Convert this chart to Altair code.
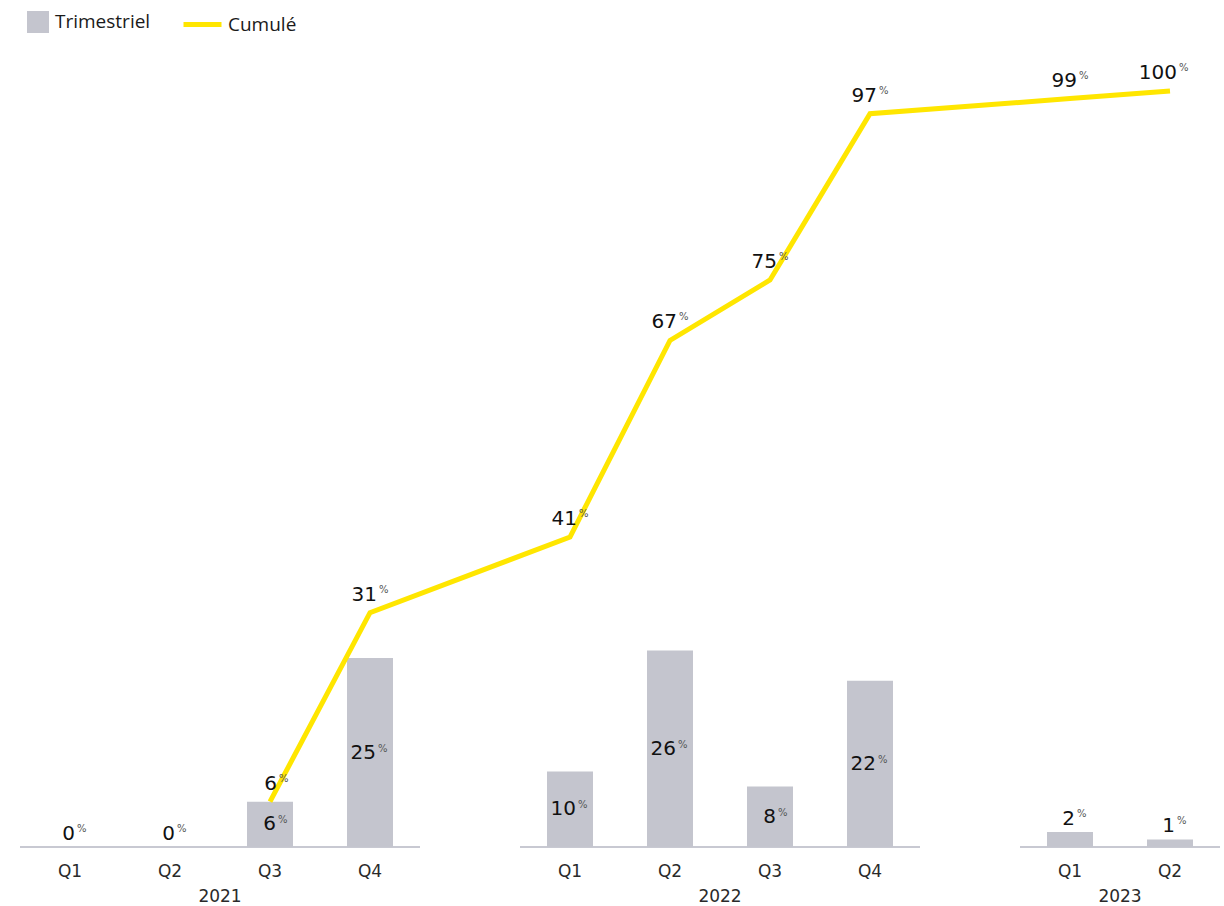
import altair as alt
import pandas as pd

# ---- data ----
years = ["2021", "2021", "2021", "2021", "2022", "2022", "2022", "2022", "2023", "2023"]
quarters = ["Q1", "Q2", "Q3", "Q4", "Q1", "Q2", "Q3", "Q4", "Q1", "Q2"]
trimestriel = [0, 0, 6, 25, 10, 26, 8, 22, 2, 1]
cumule = [None, None, 6, 31, 41, 67, 75, 97, 99, 100]
series_names = ["Trimestriel", "Cumulé"]

# ---- layout / style ----
W, H = 1200, 756
BAR_COLOR = "#c4c5ce"
LINE_COLOR = "#ffe600"
AXIS_COLOR = "#c8c9d2"
NUM_FONT = "DejaVu Sans"
LEG_FONT = "Open Sans"

cats = [f"{y} {q}" for y, q in zip(years, quarters)]
domain = []
prev = None
for y, c in zip(years, cats):
    if prev is not None and y != prev:
        domain.append(f"gap {y}")
    domain.append(c)
    prev = y

df = pd.DataFrame({"cat": cats, "year": years, "quarter": quarters,
                   "trim": trimestriel, "cum": cumule})
df["s_bar"] = series_names[0]
df["s_line"] = series_names[1]

year_rows = []
for y in dict.fromkeys(years):
    qs = [c for c, yy in zip(cats, years) if yy == y]
    year_rows.append({"year": y, "cat": qs[len(qs) // 2 - 1]})
df_years = pd.DataFrame(year_rows)

xscale = alt.Scale(domain=domain, paddingInner=0, paddingOuter=0)
xaxis = alt.Axis(title=None, domain=False, ticks=False, labelAngle=0,
                 labelExpr="indexof(datum.value,'Q')>=0 ? slice(datum.value,5) : ''",
                 labelFont=NUM_FONT, labelFontSize=17, labelColor="#2a2a2a",
                 labelPadding=16)
xenc = alt.X("cat:N", scale=xscale, axis=xaxis)
yscale = alt.Scale(domain=[0, 100], nice=False, zero=True)

base = alt.Chart(df)

baseline = base.mark_rect(color=AXIS_COLOR).encode(
    x=xenc, y=alt.value(H - 1), y2=alt.value(H + 1)
)

bars = base.mark_bar(width=46).encode(
    x=xenc,
    y=alt.Y("trim:Q", scale=yscale, axis=None),
    fill=alt.Fill("s_bar:N",
                  scale=alt.Scale(domain=[series_names[0]], range=[BAR_COLOR]),
                  legend=alt.Legend(title=None, orient="none", legendX=7, legendY=-80,
                                    symbolType="square", symbolSize=484,
                                    symbolStrokeWidth=0, padding=0, labelOffset=6,
                                    labelFont=LEG_FONT, labelFontSize=19,
                                    labelFontWeight=500, labelColor="#1a1a1a")),
)

line = base.transform_filter("datum.cum != null").mark_line(strokeWidth=5).encode(
    x=xenc,
    y=alt.Y("cum:Q", scale=yscale, axis=None),
    stroke=alt.Stroke("s_line:N",
                      scale=alt.Scale(domain=[series_names[1]], range=[LINE_COLOR]),
                      legend=alt.Legend(title=None, orient="none", legendX=161, legendY=-88,
                                        symbolType="stroke", symbolSize=1444,
                                        symbolStrokeWidth=5, padding=0, labelOffset=4,
                                        labelFont=LEG_FONT, labelFontSize=19,
                                        labelFontWeight=500, labelColor="#1a1a1a")),
)

# bar labels: inside (centred) for taller bars, above for small ones
inside = base.transform_filter("datum.trim >= 5").transform_calculate(mid="datum.trim/2")
inside_num = inside.mark_text(font=NUM_FONT, fontSize=20, color="#111111",
                              align="right", baseline="middle", dx=6).encode(
    x=xenc, y=alt.Y("mid:Q", scale=yscale, axis=None), text="trim:Q")
inside_pct = inside.mark_text(font=NUM_FONT, fontSize=10, color="#555555",
                              align="left", baseline="middle", dx=8, dy=-4).encode(
    x=xenc, y=alt.Y("mid:Q", scale=yscale, axis=None), text=alt.value("%"))

above = base.transform_filter("datum.trim < 5")
above_num = above.mark_text(font=NUM_FONT, fontSize=20, color="#111111",
                            align="right", baseline="alphabetic", dx=5, dy=-7).encode(
    x=xenc, y=alt.Y("trim:Q", scale=yscale, axis=None), text="trim:Q")
above_pct = above.mark_text(font=NUM_FONT, fontSize=10, color="#555555",
                            align="left", baseline="alphabetic", dx=7, dy=-15).encode(
    x=xenc, y=alt.Y("trim:Q", scale=yscale, axis=None), text=alt.value("%"))

# line labels
lab = base.transform_filter("datum.cum != null")
line_num = lab.mark_text(font=NUM_FONT, fontSize=20, color="#111111",
                         align="right", baseline="alphabetic", dx=7, dy=-12).encode(
    x=xenc, y=alt.Y("cum:Q", scale=yscale, axis=None), text="cum:Q")
line_pct = lab.mark_text(font=NUM_FONT, fontSize=10, color="#555555",
                         align="left", baseline="alphabetic", dx=9, dy=-20).encode(
    x=xenc, y=alt.Y("cum:Q", scale=yscale, axis=None), text=alt.value("%"))

year_text = alt.Chart(df_years).mark_text(font=NUM_FONT, fontSize=17, color="#2a2a2a",
                                          baseline="top").encode(
    x=alt.X("cat:N", scale=xscale, axis=xaxis, bandPosition=1),
    y=alt.value(H + 42),
    text="year:N",
)

chart = alt.layer(
    baseline, bars, line, inside_num, inside_pct, above_num, above_pct,
    line_num, line_pct, year_text
).properties(
    width=W, height=H,
    padding={"left": 20, "top": 91, "right": 4, "bottom": 59},
    autosize=alt.AutoSizeParams(type="none"),
    background="white",
).configure_view(stroke=None, strokeWidth=0)

chart.save("out.html", embed_options={"renderer": "svg", "actions": False})
